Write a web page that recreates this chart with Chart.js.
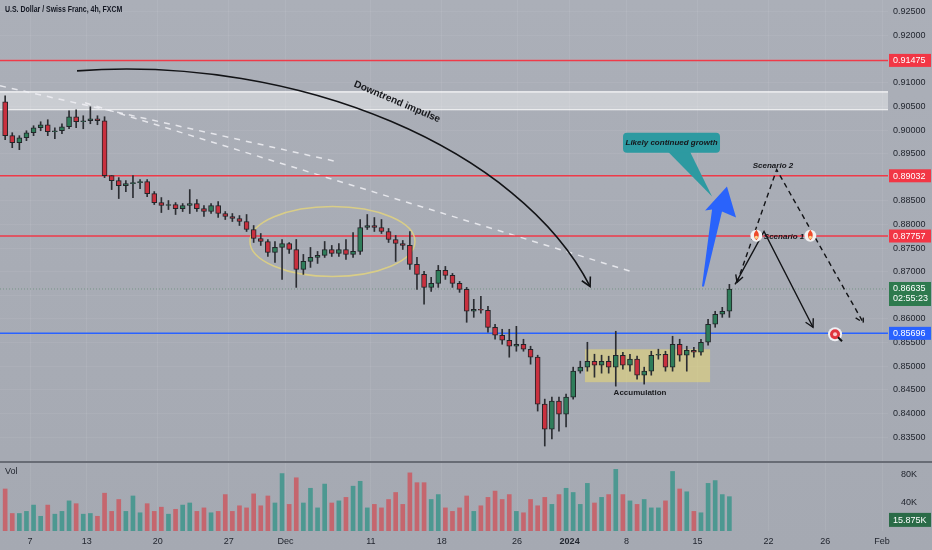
<!DOCTYPE html>
<html>
<head>
<meta charset="utf-8">
<script src="https://cdn.jsdelivr.net/npm/chart.js@4.4.1/dist/chart.umd.min.js"></script>
<style>
  body { margin: 0; background: #a9adb6; }
  #wrap { position: relative; width: 932px; height: 550px; background: linear-gradient(#abafb8, #a5a9b2); }
  #price { position: absolute; left: 0; top: 0; }
  #vol { position: absolute; left: 0; top: 462px; }
  #sep { position: absolute; left: 0; top: 461px; width: 932px; height: 2px; background: #686c75; }
</style>
</head>
<body>
<div id="wrap">
  <canvas id="price" width="932" height="461"></canvas>
  <div id="sep"></div>
  <canvas id="vol" width="932" height="88"></canvas>
</div>
<script>
// USD/CHF, one candle per 12 hours (half trading day)
// x unit = trading days counted from Tue 7 Nov 2023
const firstDay = -2; // Fri 3 Nov
const firstOpen = 0.90599;
const closes = [
  0.89881, 0.89733, 0.89838, 0.89944, 0.90050, 0.90113, 0.89965, 0.89986, 0.90071, 0.90282,
  0.90176, 0.90198, 0.90240, 0.90198, 0.89035, 0.88930, 0.88824, 0.88866, 0.88888, 0.88909,
  0.88655, 0.88465, 0.88402, 0.88423, 0.88338, 0.88402, 0.88444, 0.88338, 0.88275, 0.88402,
  0.88233, 0.88169, 0.88127, 0.88064, 0.87895, 0.87704, 0.87641, 0.87409, 0.87515, 0.87599,
  0.87472, 0.87050, 0.87219, 0.87303, 0.87346, 0.87472, 0.87388, 0.87472, 0.87367, 0.87430,
  0.87937, 0.87979, 0.87937, 0.87853, 0.87683, 0.87599, 0.87557, 0.87155, 0.86944, 0.86669,
  0.86754, 0.87029, 0.86923, 0.86754, 0.86627, 0.86163, 0.86205, 0.86184, 0.85824, 0.85655,
  0.85550, 0.85423, 0.85465, 0.85360, 0.85191, 0.84198, 0.83669, 0.84261, 0.83986, 0.84346,
  0.84895, 0.84980, 0.85106, 0.85022, 0.85106, 0.84980, 0.85233, 0.85022, 0.85149, 0.84810,
  0.84895, 0.85233, 0.85254, 0.84980, 0.85465, 0.85233, 0.85338, 0.85296, 0.85507, 0.85888,
  0.86100, 0.86163, 0.86635
];
const highs = [
  0.90726, 0.89944, 0.89881, 0.89986, 0.90092, 0.90176, 0.90219, 0.90050, 0.90134, 0.90409,
  0.90430, 0.90303, 0.90493, 0.90303, 0.90282, 0.89035, 0.88993, 0.88930, 0.89035, 0.88951,
  0.88951, 0.88698, 0.88571, 0.88508, 0.88465, 0.88444, 0.88740, 0.88529, 0.88402, 0.88444,
  0.88486, 0.88275, 0.88233, 0.88190, 0.88212, 0.87979, 0.87810, 0.87683, 0.87641, 0.87683,
  0.87620, 0.87683, 0.87367, 0.87515, 0.87430, 0.87641, 0.87557, 0.87599, 0.87683, 0.87832,
  0.88106, 0.88212, 0.88148, 0.88106, 0.87916, 0.87768, 0.87662, 0.87853, 0.87303, 0.87007,
  0.86881, 0.87134, 0.87113, 0.86965, 0.86796, 0.86669, 0.86416, 0.86479, 0.86268, 0.85888,
  0.85782, 0.85782, 0.85845, 0.85571, 0.85423, 0.85233, 0.84303, 0.84346, 0.84346, 0.84409,
  0.84980, 0.85106, 0.85507, 0.85254, 0.85233, 0.85212, 0.85740, 0.85296, 0.85254, 0.85212,
  0.84980, 0.85317, 0.85360, 0.85317, 0.85634, 0.85571, 0.85423, 0.85402, 0.85571, 0.85993,
  0.86163, 0.86247, 0.86733
];
const lows = [
  0.89796, 0.89627, 0.89585, 0.89775, 0.89881, 0.89986, 0.89881, 0.89817, 0.89923, 0.90028,
  0.90050, 0.90028, 0.90134, 0.90113, 0.88993, 0.88740, 0.88550, 0.88698, 0.88571, 0.88761,
  0.88592, 0.88423, 0.88254, 0.88317, 0.88212, 0.88275, 0.88233, 0.88275, 0.88169, 0.88233,
  0.88148, 0.88106, 0.88064, 0.87979, 0.87853, 0.87620, 0.87557, 0.87324, 0.87198, 0.86838,
  0.87388, 0.86669, 0.86944, 0.87092, 0.87176, 0.87303, 0.87324, 0.87324, 0.87261, 0.87303,
  0.87367, 0.87895, 0.87853, 0.87810, 0.87620, 0.87219, 0.87472, 0.87050, 0.86627, 0.86311,
  0.86585, 0.86669, 0.86838, 0.86669, 0.86564, 0.85930, 0.86035, 0.86121, 0.85719, 0.85571,
  0.85465, 0.85191, 0.85317, 0.85317, 0.85043, 0.84050, 0.83310, 0.83458, 0.83627, 0.83712,
  0.84303, 0.84853, 0.84895, 0.84768, 0.84853, 0.84853, 0.84578, 0.84937, 0.84895, 0.84726,
  0.84621, 0.84810, 0.85149, 0.84895, 0.84895, 0.85106, 0.84895, 0.85191, 0.85233, 0.85444,
  0.85824, 0.86035, 0.86035
];
// volume in thousands
const volumes = [
  60, 25, 25, 28, 37, 21, 37, 24, 28, 43,
  39, 24, 25, 21, 54, 28, 45, 28, 50, 26,
  39, 28, 34, 24, 31, 37, 40, 28, 33, 26,
  28, 52, 28, 36, 33, 53, 36, 50, 40, 82,
  38, 76, 40, 61, 33, 67, 40, 43, 48, 64,
  71, 33, 38, 33, 45, 55, 38, 83, 69, 69,
  45, 52, 33, 28, 33, 50, 28, 36, 48, 57,
  45, 52, 28, 26, 45, 36, 48, 38, 52, 61,
  55, 38, 68, 40, 48, 52, 88, 52, 43, 38,
  45, 33, 33, 43, 85, 60, 56, 28, 26, 68,
  72, 52, 49
];
const lastBarVolume = 15875;
const countdown = '02:55:23';

const priceTicks = [0.835, 0.84, 0.845, 0.85, 0.855, 0.86, 0.865, 0.87, 0.875, 0.88,
  0.885, 0.89, 0.895, 0.9, 0.905, 0.91, 0.915, 0.92, 0.925];
const volTicks = [40000, 80000];
const tickDays = [0, 4, 9, 14, 18, 24, 29, 34.3, 38, 42, 47, 52, 56, 60];
const tickLabels = ['7', '13', '20', '27', 'Dec', '11', '18', '26', '2024', '8', '15', '22', '26', 'Feb'];

// drawings on the chart, in (trading day, price)
const redLevels = [0.91475, 0.89032, 0.87757];
const supportLevel = 0.85696;
const zoneBand = [0.90430, 0.90810];
const trendA = [[-2.11, 0.90937], [21.62, 0.89331]];
const trendB = [[3.87, 0.90578], [42.46, 0.86993]];
const ellipseCenter = [21.3, 0.87641];
const ellipseRadius = [5.81, 0.0074];
const accumBox = [[39.08, 0.85359], [47.89, 0.84662]];
const impulseCurve = [[3.31, 0.91254], [19.01, 0.91592], [34.51, 0.89585], [39.44, 0.86690]];
const blueArrow = [[47.32, 0.86690], [48.03, 0.88317], [47.54, 0.88296], [49.08, 0.88803],
  [49.72, 0.88148], [48.73, 0.88275], [47.46, 0.86690]];
const calloutBox = [[41.76, 0.89944], [48.59, 0.89521]];
const calloutTail = [[44.93, 0.89521], [46.48, 0.89521], [48.03, 0.88592]];
const scenario1 = [[49.65, 0.86733], [51.69, 0.87852], [55.14, 0.85824]];
const scenario2 = [[49.79, 0.86775], [52.58, 0.89162], [58.68, 0.85923]];
const targetPoint = [56.69, 0.85676];

const UP = '#2f7d5a', DOWN = '#c9303e', EDGE = '#232529';
const FONT = 'Liberation Sans';

const slotDay = i => firstDay + 0.25 + i * 0.5;
const opens = closes.map((c, i) => i === 0 ? firstOpen : closes[i - 1]);

// keep the plot area edge to edge, the tick labels must not shrink it
function noPad(s) {
  s.paddingTop = 0; s.paddingBottom = 0; s.paddingLeft = 0; s.paddingRight = 0;
}

function arrowHead(ctx, x1, y1, x2, y2, len) {
  const a = Math.atan2(y2 - y1, x2 - x1);
  ctx.beginPath();
  ctx.moveTo(x2 - len * Math.cos(a - 0.5), y2 - len * Math.sin(a - 0.5));
  ctx.lineTo(x2, y2);
  ctx.lineTo(x2 - len * Math.cos(a + 0.5), y2 - len * Math.sin(a + 0.5));
  ctx.stroke();
}

function flame(ctx, cx, cy) {
  ctx.fillStyle = '#f2f2f2';
  ctx.beginPath();
  ctx.arc(cx, cy, 6, 0, Math.PI * 2);
  ctx.fill();
  ctx.fillStyle = '#ee4a2a';
  ctx.beginPath();
  ctx.moveTo(cx, cy - 6);
  ctx.quadraticCurveTo(cx + 5, cy, cx, cy + 4.5);
  ctx.quadraticCurveTo(cx - 5, cy, cx, cy - 6);
  ctx.fill();
  ctx.fillStyle = '#fbd38a';
  ctx.beginPath();
  ctx.arc(cx, cy + 1.5, 1.6, 0, Math.PI * 2);
  ctx.fill();
}

function axisBox(ctx, y, color, text, h) {
  ctx.fillStyle = color;
  ctx.fillRect(889, y - h / 2, 42, h);
  ctx.fillStyle = '#ffffff';
  ctx.font = '9px ' + FONT;
  ctx.textAlign = 'left';
  ctx.textBaseline = 'middle';
  ctx.fillText(text, 893, y + 0.5);
}

const drawings = {
  id: 'drawings',
  beforeDatasetsDraw(chart) {
    const { ctx, chartArea: a, scales: { x, y } } = chart;
    const X = v => x.getPixelForValue(v), Y = v => y.getPixelForValue(v);
    ctx.save();
    // resistance band
    const bt = Y(zoneBand[1]), bb = Y(zoneBand[0]);
    ctx.fillStyle = 'rgba(255,255,255,0.38)';
    ctx.fillRect(a.left, bt, a.width, bb - bt);
    ctx.strokeStyle = 'rgba(255,255,255,0.9)';
    ctx.lineWidth = 1.2;
    [bt, bb].forEach(v => { ctx.beginPath(); ctx.moveTo(a.left, v); ctx.lineTo(a.right, v); ctx.stroke(); });
    // accumulation box
    const bx1 = X(accumBox[0][0]), by1 = Y(accumBox[0][1]);
    const bx2 = X(accumBox[1][0]), by2 = Y(accumBox[1][1]);
    ctx.fillStyle = 'rgba(228,214,120,0.6)';
    ctx.fillRect(bx1, by1, bx2 - bx1, by2 - by1);
    // current price dotted line
    ctx.strokeStyle = 'rgba(60,120,80,0.45)';
    ctx.lineWidth = 1;
    ctx.setLineDash([1, 2]);
    ctx.beginPath();
    ctx.moveTo(a.left, Y(closes[closes.length - 1]));
    ctx.lineTo(a.right, Y(closes[closes.length - 1]));
    ctx.stroke();
    // trend lines
    ctx.setLineDash([6, 6]);
    ctx.strokeStyle = 'rgba(240,240,245,0.85)';
    ctx.lineWidth = 1.5;
    [trendA, trendB].forEach(t => {
      ctx.beginPath();
      ctx.moveTo(X(t[0][0]), Y(t[0][1]));
      ctx.lineTo(X(t[1][0]), Y(t[1][1]));
      ctx.stroke();
    });
    ctx.setLineDash([]);
    // levels
    ctx.lineWidth = 1.5;
    ctx.strokeStyle = '#ef3a48';
    redLevels.forEach(p => { ctx.beginPath(); ctx.moveTo(a.left, Y(p)); ctx.lineTo(a.right, Y(p)); ctx.stroke(); });
    ctx.strokeStyle = '#2962ff';
    ctx.beginPath(); ctx.moveTo(a.left, Y(supportLevel)); ctx.lineTo(a.right, Y(supportLevel)); ctx.stroke();
    // consolidation ellipse
    const ecx = X(ellipseCenter[0]), ecy = Y(ellipseCenter[1]);
    const erx = X(ellipseCenter[0] + ellipseRadius[0]) - ecx;
    const ery = ecy - Y(ellipseCenter[1] + ellipseRadius[1]);
    ctx.strokeStyle = 'rgba(222,208,130,0.9)';
    ctx.lineWidth = 1.5;
    ctx.beginPath();
    ctx.ellipse(ecx, ecy, erx, ery, 0, 0, Math.PI * 2);
    ctx.stroke();
    ctx.restore();
  },
  afterDatasetsDraw(chart) {
    const { ctx, scales: { x, y } } = chart;
    const X = v => x.getPixelForValue(v), Y = v => y.getPixelForValue(v);
    const P = pt => [X(pt[0]), Y(pt[1])];
    ctx.save();
    // downtrend impulse curve
    const c = impulseCurve.map(P);
    ctx.strokeStyle = '#121316';
    ctx.lineWidth = 1.6;
    ctx.beginPath();
    ctx.moveTo(c[0][0], c[0][1]);
    ctx.bezierCurveTo(c[1][0], c[1][1], c[2][0], c[2][1], c[3][0], c[3][1]);
    ctx.stroke();
    arrowHead(ctx, c[2][0], c[2][1], c[3][0], c[3][1], 10);
    ctx.save();
    ctx.translate(X(25.85), Y(0.90599));
    ctx.rotate(23 * Math.PI / 180);
    ctx.fillStyle = '#15161a';
    ctx.font = 'bold 10px ' + FONT;
    ctx.textAlign = 'center';
    ctx.textBaseline = 'middle';
    ctx.fillText('Downtrend impulse', 0, 0);
    ctx.restore();
    // accumulation label
    ctx.fillStyle = '#1b1c20';
    ctx.font = 'bold 8px ' + FONT;
    ctx.textAlign = 'center';
    ctx.textBaseline = 'middle';
    ctx.fillText('Accumulation', X(42.96), Y(0.84430));
    // callout
    const b1 = P(calloutBox[0]), b2 = P(calloutBox[1]);
    const t = calloutTail.map(P);
    ctx.fillStyle = '#2d9aa1';
    ctx.beginPath();
    ctx.moveTo(t[0][0], t[0][1] - 1);
    ctx.lineTo(t[2][0], t[2][1]);
    ctx.lineTo(t[1][0], t[1][1] - 1);
    ctx.fill();
    ctx.beginPath();
    ctx.roundRect(b1[0], b1[1], b2[0] - b1[0], b2[1] - b1[1], 4);
    ctx.fill();
    ctx.fillStyle = '#15161a';
    ctx.font = 'italic bold 8px ' + FONT;
    ctx.fillText('Likely continued growth', (b1[0] + b2[0]) / 2, (b1[1] + b2[1]) / 2);
    // blue arrow
    ctx.fillStyle = '#2a63fb';
    ctx.beginPath();
    blueArrow.map(P).forEach((p, i) => i ? ctx.lineTo(p[0], p[1]) : ctx.moveTo(p[0], p[1]));
    ctx.closePath();
    ctx.fill();
    // scenario 1 (solid)
    const s1 = scenario1.map(P);
    ctx.strokeStyle = '#121316';
    ctx.lineWidth = 1.4;
    ctx.beginPath();
    s1.forEach((p, i) => i ? ctx.lineTo(p[0], p[1]) : ctx.moveTo(p[0], p[1]));
    ctx.stroke();
    arrowHead(ctx, s1[1][0], s1[1][1], s1[2][0], s1[2][1], 9);
    // scenario 2 (dashed)
    const s2 = scenario2.map(P);
    ctx.setLineDash([5, 4]);
    ctx.beginPath();
    s2.forEach((p, i) => i ? ctx.lineTo(p[0], p[1]) : ctx.moveTo(p[0], p[1]));
    ctx.stroke();
    arrowHead(ctx, s2[1][0], s2[1][1], s2[2][0], s2[2][1], 9);
    ctx.setLineDash([]);
    arrowHead(ctx, s2[1][0], s2[1][1], s2[0][0], s2[0][1], 8);
    flame(ctx, X(51.15), Y(0.87760));
    flame(ctx, X(54.95), Y(0.87760));
    ctx.fillStyle = '#15161a';
    ctx.font = 'italic bold 8px ' + FONT;
    ctx.fillText('Scenario 2', X(52.32), Y(0.89247));
    ctx.fillText('Scenario 1', X(53.1), Y(0.87733));
    // target
    const tg = P(targetPoint);
    ctx.fillStyle = '#eef0f4';
    ctx.beginPath(); ctx.arc(tg[0], tg[1], 7, 0, Math.PI * 2); ctx.fill();
    ctx.fillStyle = '#e0353f';
    ctx.beginPath(); ctx.arc(tg[0], tg[1], 5, 0, Math.PI * 2); ctx.fill();
    ctx.fillStyle = '#f6c9cc';
    ctx.beginPath(); ctx.arc(tg[0], tg[1], 2, 0, Math.PI * 2); ctx.fill();
    ctx.strokeStyle = '#111';
    ctx.lineWidth = 2;
    ctx.beginPath(); ctx.moveTo(tg[0] + 3, tg[1] + 3); ctx.lineTo(tg[0] + 7, tg[1] + 7); ctx.stroke();
    ctx.restore();
  },
  afterDraw(chart) {
    const { ctx, scales: { y } } = chart;
    ctx.save();
    redLevels.forEach(p => axisBox(ctx, y.getPixelForValue(p), '#f23645', p.toFixed(5), 13));
    axisBox(ctx, y.getPixelForValue(supportLevel), '#2962ff', supportLevel.toFixed(5), 13);
    const ly = y.getPixelForValue(closes[closes.length - 1]);
    ctx.fillStyle = '#2e7a4e';
    ctx.fillRect(889, ly - 7, 42, 24);
    ctx.fillStyle = '#ffffff';
    ctx.font = '9px ' + FONT;
    ctx.textBaseline = 'middle';
    ctx.fillText(closes[closes.length - 1].toFixed(5), 893, ly);
    ctx.fillText(countdown, 893, ly + 10);
    // title, condensed like the original
    ctx.fillStyle = '#131722';
    ctx.font = 'bold 8.5px ' + FONT;
    ctx.translate(5, 10);
    ctx.scale(0.82, 1);
    ctx.fillText('U.S. Dollar / Swiss Franc, 4h, FXCM', 0, 0);
    ctx.restore();
  }
};

const xMin = -2.113, xMax = 60.42;

new Chart(document.getElementById('price'), {
  type: 'bar',
  data: {
    datasets: [
      {
        data: closes.map((c, i) => ({ x: slotDay(i), y: [opens[i], c] })),
        backgroundColor: closes.map((c, i) => c >= opens[i] ? UP : DOWN),
        borderColor: EDGE,
        borderWidth: 1,
        borderSkipped: false,
        barThickness: 5,
        grouped: false,
        order: 0
      },
      {
        data: closes.map((c, i) => ({ x: slotDay(i), y: [lows[i], highs[i]] })),
        backgroundColor: '#2b2d32',
        barThickness: 1,
        grouped: false,
        order: 1
      }
    ]
  },
  options: {
    responsive: false,
    animation: false,
    layout: { padding: 0 },
    plugins: { legend: { display: false }, tooltip: { enabled: false } },
    scales: {
      x: {
        type: 'linear', min: xMin, max: xMax, offset: false,
        afterBuildTicks: s => { s.ticks = tickDays.map(v => ({ value: v })); },
        afterFit: s => { s.height = 0; noPad(s); },
        ticks: { display: false },
        grid: { color: 'rgba(255,255,255,0.07)', drawTicks: false, offset: false },
        border: { display: false }
      },
      y: {
        position: 'right', min: 0.82993, max: 0.92754,
        afterBuildTicks: s => { s.ticks = priceTicks.map(v => ({ value: v })); },
        afterFit: s => { s.width = 44; noPad(s); },
        ticks: { padding: 5, color: '#22262f', font: { family: FONT, size: 9 }, callback: v => v.toFixed(5) },
        grid: { color: 'rgba(255,255,255,0.06)', drawTicks: false },
        border: { display: false }
      }
    }
  },
  plugins: [drawings]
});

const volPane = {
  id: 'volPane',
  afterDraw(chart) {
    const { ctx, scales: { y } } = chart;
    ctx.save();
    ctx.fillStyle = '#22262f';
    ctx.font = '9px ' + FONT;
    ctx.textBaseline = 'middle';
    ctx.fillText('Vol', 5, 10);
    const vy = y.getPixelForValue(lastBarVolume);
    ctx.fillStyle = '#2a6b47';
    ctx.fillRect(889, vy - 7, 42, 14);
    ctx.fillStyle = '#ffffff';
    ctx.fillText((lastBarVolume / 1000).toFixed(3) + 'K', 893, vy + 0.5);
    ctx.restore();
  }
};

new Chart(document.getElementById('vol'), {
  type: 'bar',
  data: {
    datasets: [{
      data: volumes.map((v, i) => ({ x: slotDay(i), y: v * 1000 })),
      backgroundColor: closes.map((c, i) => c >= opens[i] ? '#4d9891' : '#c5666e'),
      barThickness: 4
    }]
  },
  options: {
    responsive: false,
    animation: false,
    layout: { padding: { top: 1 } },
    plugins: { legend: { display: false }, tooltip: { enabled: false } },
    scales: {
      x: {
        type: 'linear', min: xMin, max: xMax, offset: false,
        afterBuildTicks: s => { s.ticks = tickDays.map(v => ({ value: v })); },
        afterFit: s => { s.height = 19; noPad(s); },
        ticks: {
          padding: 5, color: '#22262f', autoSkip: false, maxRotation: 0,
          font: c => ({ family: FONT, size: 9, weight: c.tick && c.tick.value === 38 ? 'bold' : 'normal' }),
          callback: (v, i) => tickLabels[i]
        },
        grid: { color: 'rgba(255,255,255,0.07)', drawTicks: false, offset: false },
        border: { display: false }
      },
      y: {
        position: 'right', min: 0, max: 97100,
        afterBuildTicks: s => { s.ticks = volTicks.map(v => ({ value: v })); },
        afterFit: s => { s.width = 44; noPad(s); },
        ticks: { padding: 5, color: '#22262f', font: { family: FONT, size: 9 }, callback: v => (v / 1000) + 'K' },
        grid: { display: false },
        border: { display: false }
      }
    }
  },
  plugins: [volPane]
});
</script>
</body>
</html>
